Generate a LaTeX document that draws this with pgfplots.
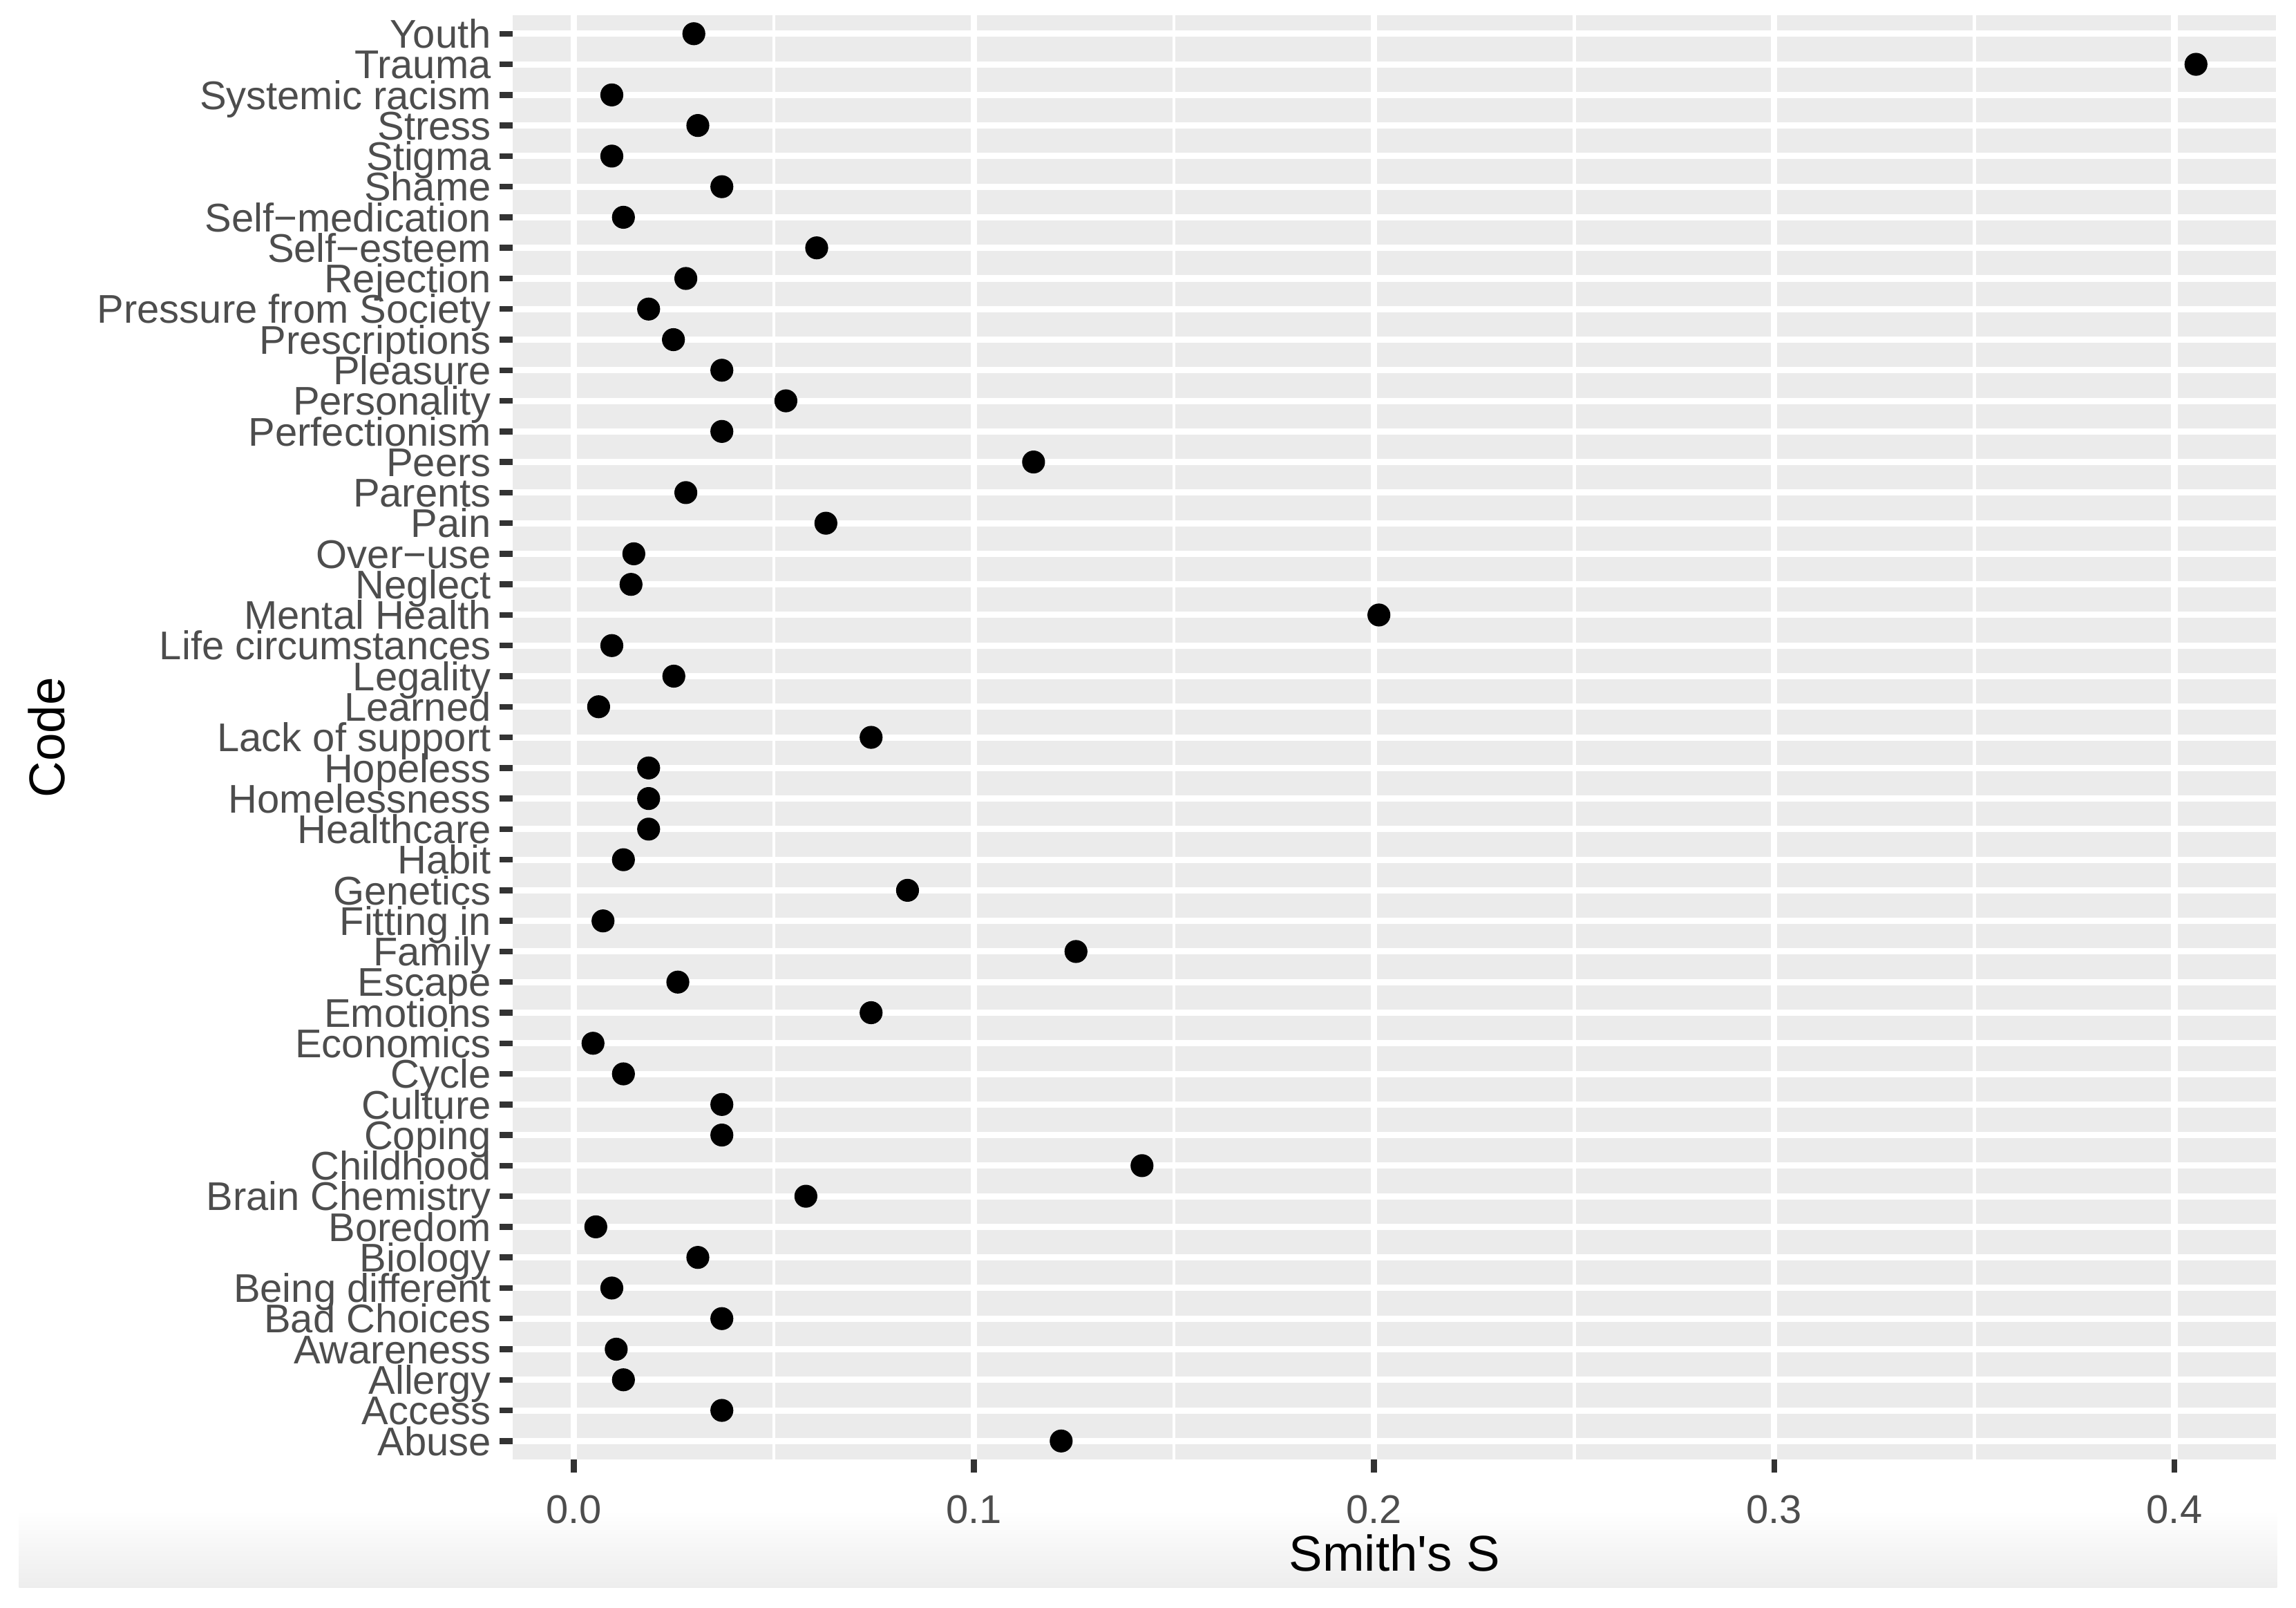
\documentclass[border=0pt]{standalone}
\usepackage{fontspec}
\setmainfont{Liberation Sans}
\usepackage{pgfplots}
\pgfplotsset{compat=1.18}
\usetikzlibrary{calc}

\definecolor{panelbg}{HTML}{EBEBEB}
\definecolor{grey30}{HTML}{4D4D4D}
\definecolor{grey20}{HTML}{333333}

\begin{document}
\begin{tikzpicture}
  \useasboundingbox (-105.1pt,-30.45pt) rectangle (365.3pt,298.95pt);
  % faint grey band at the bottom of the original screenshot
  \shade[top color=white, bottom color=black!7, draw=none]
    (-101.2pt,-10.35pt) rectangle (361.4pt,-26.25pt);
  \begin{axis}[
    at={(0,0)}, anchor=south west,
    scale only axis, width=361.2pt, height=295.8pt,
    xmin=-0.0152, xmax=0.4254, ymin=0.4, ymax=47.6,
    axis background/.style={fill=panelbg},
    axis line style={draw=none},
    xtick={0,0.1,0.2,0.3,0.4},
    xticklabels={0.0,0.1,0.2,0.3,0.4},
    minor xtick={0.05,0.15,0.25,0.35},
    ytick={1,...,47},
    yticklabels={Abuse,Access,Allergy,Awareness,Bad Choices,Being different,
      Biology,Boredom,Brain Chemistry,Childhood,Coping,Culture,Cycle,Economics,
      Emotions,Escape,Family,Fitting in,Genetics,Habit,Healthcare,Homelessness,
      Hopeless,Lack of support,Learned,Legality,Life circumstances,Mental Health,
      Neglect,Over−use,Pain,Parents,Peers,Perfectionism,Personality,Pleasure,
      Prescriptions,Pressure from Society,Rejection,Self−esteem,Self−medication,
      Shame,Stigma,Stress,Systemic racism,Trauma,Youth},
    tick pos=left, tick align=outside,
    major tick length=2.7pt, minor tick length=0pt,
    tick style={draw=grey20, line width=1.2pt},
    grid=both,
    major grid style={draw=white, line width=1.28pt},
    minor grid style={draw=white, line width=0.64pt},
    ticklabel style={font=\fontsize{8.2}{8.4}\selectfont, text=grey30,
      inner sep=0pt, text height=5.87pt, text depth=0pt},
    yticklabel style={anchor=east, xshift=-1.6pt},
    xticklabel style={anchor=north, yshift=-4.4pt},
    xlabel={Smith\textquotesingle s S},
    ylabel={Code},
    label style={font=\fontsize{10.3}{11}\selectfont, text=black,
      inner sep=0pt, text height=7.37pt, text depth=0pt},
    xlabel style={at={($(rel axis cs:0.5,0)+(0,-19.2pt)$)}, anchor=center},
    ylabel style={at={($(rel axis cs:0,0.5)+(-95.6pt,0)$)}, anchor=center},
  ]
    \addplot[only marks, mark=*, mark size=2.25pt,
             mark options={fill=black, draw=black, line width=0.2pt}]
      coordinates {
        (0.1218,1) (0.0370,2) (0.0124,3) (0.0106,4) (0.0370,5)
        (0.0095,6) (0.0310,7) (0.0055,8) (0.0580,9) (0.1420,10)
        (0.0370,11) (0.0370,12) (0.0124,13) (0.0048,14) (0.0743,15)
        (0.0260,16) (0.1255,17) (0.0073,18) (0.0834,19) (0.0124,20)
        (0.0187,21) (0.0187,22) (0.0187,23) (0.0743,24) (0.0062,25)
        (0.0250,26) (0.0095,27) (0.2012,28) (0.0143,29) (0.0150,30)
        (0.0630,31) (0.0280,32) (0.1149,33) (0.0370,34) (0.0530,35)
        (0.0370,36) (0.0249,37) (0.0187,38) (0.0280,39) (0.0607,40)
        (0.0124,41) (0.0370,42) (0.0095,43) (0.0310,44) (0.0095,45)
        (0.4054,46) (0.0300,47)
      };
  \end{axis}
\end{tikzpicture}
\end{document}
